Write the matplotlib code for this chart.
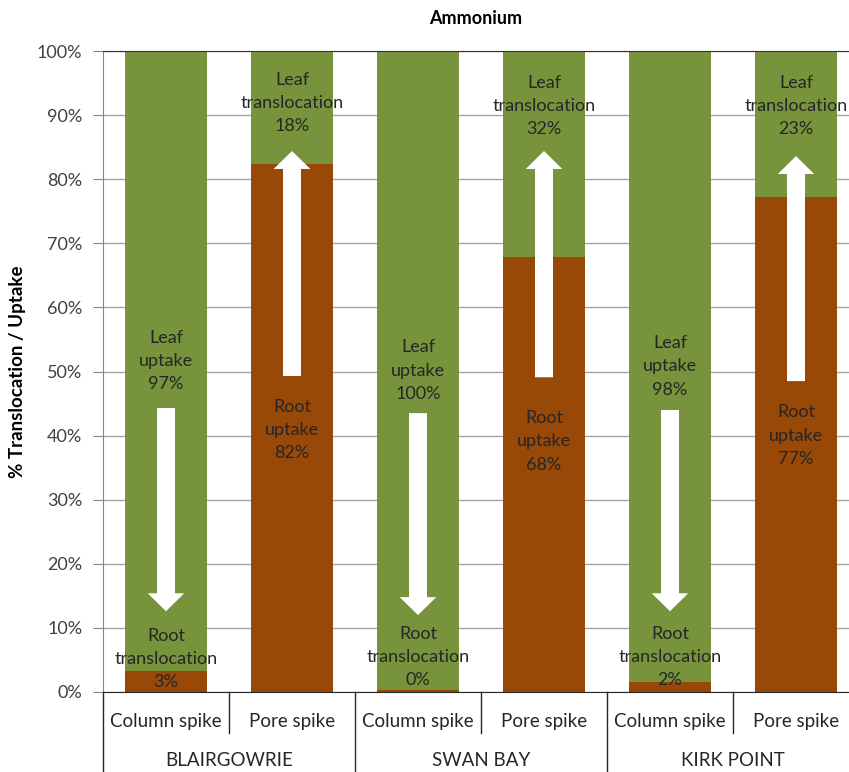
import matplotlib
matplotlib.use("Agg")
import matplotlib.pyplot as plt
from matplotlib.patches import FancyArrow
import numpy as np

plt.rcParams['font.family'] = ['Lato', 'DejaVu Sans']

# ---- data ----
sites = ["BLAIRGOWRIE", "SWAN BAY", "KIRK POINT"]
spikes = ["Column spike", "Pore spike"]
root_pct = [3.2, 82.3, 0.3, 67.8, 1.6, 77.3]   # brown segment (root)
leaf_pct = [100 - r for r in root_pct]          # green segment (leaf)
root_labels = ["Root\ntranslocation\n3%", "Root\nuptake\n82%",
               "Root\ntranslocation\n0%", "Root\nuptake\n68%",
               "Root\ntranslocation\n2%", "Root\nuptake\n77%"]
leaf_labels = ["Leaf\nuptake\n97%", "Leaf\ntranslocation\n18%",
               "Leaf\nuptake\n100%", "Leaf\ntranslocation\n32%",
               "Leaf\nuptake\n98%", "Leaf\ntranslocation\n23%"]
yticks = list(range(0, 101, 10))

# label / arrow placement (percent units)
root_label_y = [5.1, 40.9, 5.5, 39.1, 5.5, 40.0]
leaf_label_y = [None, 91.9, None, 91.4, None, 91.4]
arrow_tail = [44.3, 49.3, 43.5, 49.1, 44.0, 48.5]
arrow_tip = [12.6, 84.4, 12.0, 84.4, 12.6, 83.6]

GREEN = "#77933C"
BROWN = "#984807"
TXT = "#262626"

W, H = 849, 772
fig = plt.figure(figsize=(W / 100, H / 100), dpi=100)
ax = fig.add_axes([103 / W, (H - 692) / H, 756 / W, 641 / H])

x = np.arange(len(root_pct))
ax.bar(x, root_pct, width=0.65, color=BROWN, zorder=2)
ax.bar(x, leaf_pct, width=0.65, bottom=root_pct, color=GREEN, zorder=2)

ax.set_xlim(-0.5, 5.5)
ax.set_ylim(0, 100)
ax.set_yticks(yticks)
ax.set_yticklabels([f"{t}%" for t in yticks], fontsize=13, color="#404040")
ax.yaxis.grid(True, color="#A6A6A6", linewidth=1, zorder=0)
ax.tick_params(axis='y', length=7, color="#868686", pad=8)
ax.set_xticks(x)
ax.set_xticklabels([spikes[i % 2] for i in x], fontsize=13.5, color="#262626")
ax.tick_params(axis='x', length=0, pad=15)

ax.spines['left'].set_color("#868686")
ax.spines['top'].set_color("#333333")
ax.spines['bottom'].set_color("#262626")
ax.spines['right'].set_visible(False)

# category separators
trans = ax.get_xaxis_transform()
for i in range(len(x) + 1):
    xv = i - 0.5
    ylow = -41 / 641 if i % 2 == 1 else -80 / 641
    ax.plot([xv, xv], [0, ylow], color="#262626", lw=1, transform=trans, clip_on=False)
for j, s in enumerate(sites):
    ax.text(2 * j + 0.5, -68 / 641, s, transform=trans, ha='center', va='center',
            fontsize=13.5, color="#262626")

# arrows
for i in x:
    dy = arrow_tip[i] - arrow_tail[i]
    ax.add_patch(FancyArrow(i, arrow_tail[i], 0, dy, width=0.143, head_width=0.29,
                            head_length=2.8, length_includes_head=True,
                            color="white", lw=0, zorder=3))

# labels
for i in x:
    ax.text(i, root_label_y[i], root_labels[i], ha='center', va='center', fontsize=13,
            color=TXT, linespacing=1.55, zorder=4)
    ly = leaf_label_y[i] if leaf_label_y[i] is not None else (root_pct[i] + 100) / 2
    ax.text(i, ly, leaf_labels[i], ha='center', va='center', fontsize=13,
            color=TXT, linespacing=1.55, zorder=4)

fig.text(476 / W, 1 - 18 / H, "Ammonium", ha='center', va='center', fontsize=13,
         fontweight='bold', color="#000000")
fig.text(18 / W, 1 - 372 / H, "% Translocation / Uptake", ha='center', va='center',
         rotation=90, fontsize=13.5, fontweight='bold', color="#000000")

fig.savefig("out.png", dpi=100)
